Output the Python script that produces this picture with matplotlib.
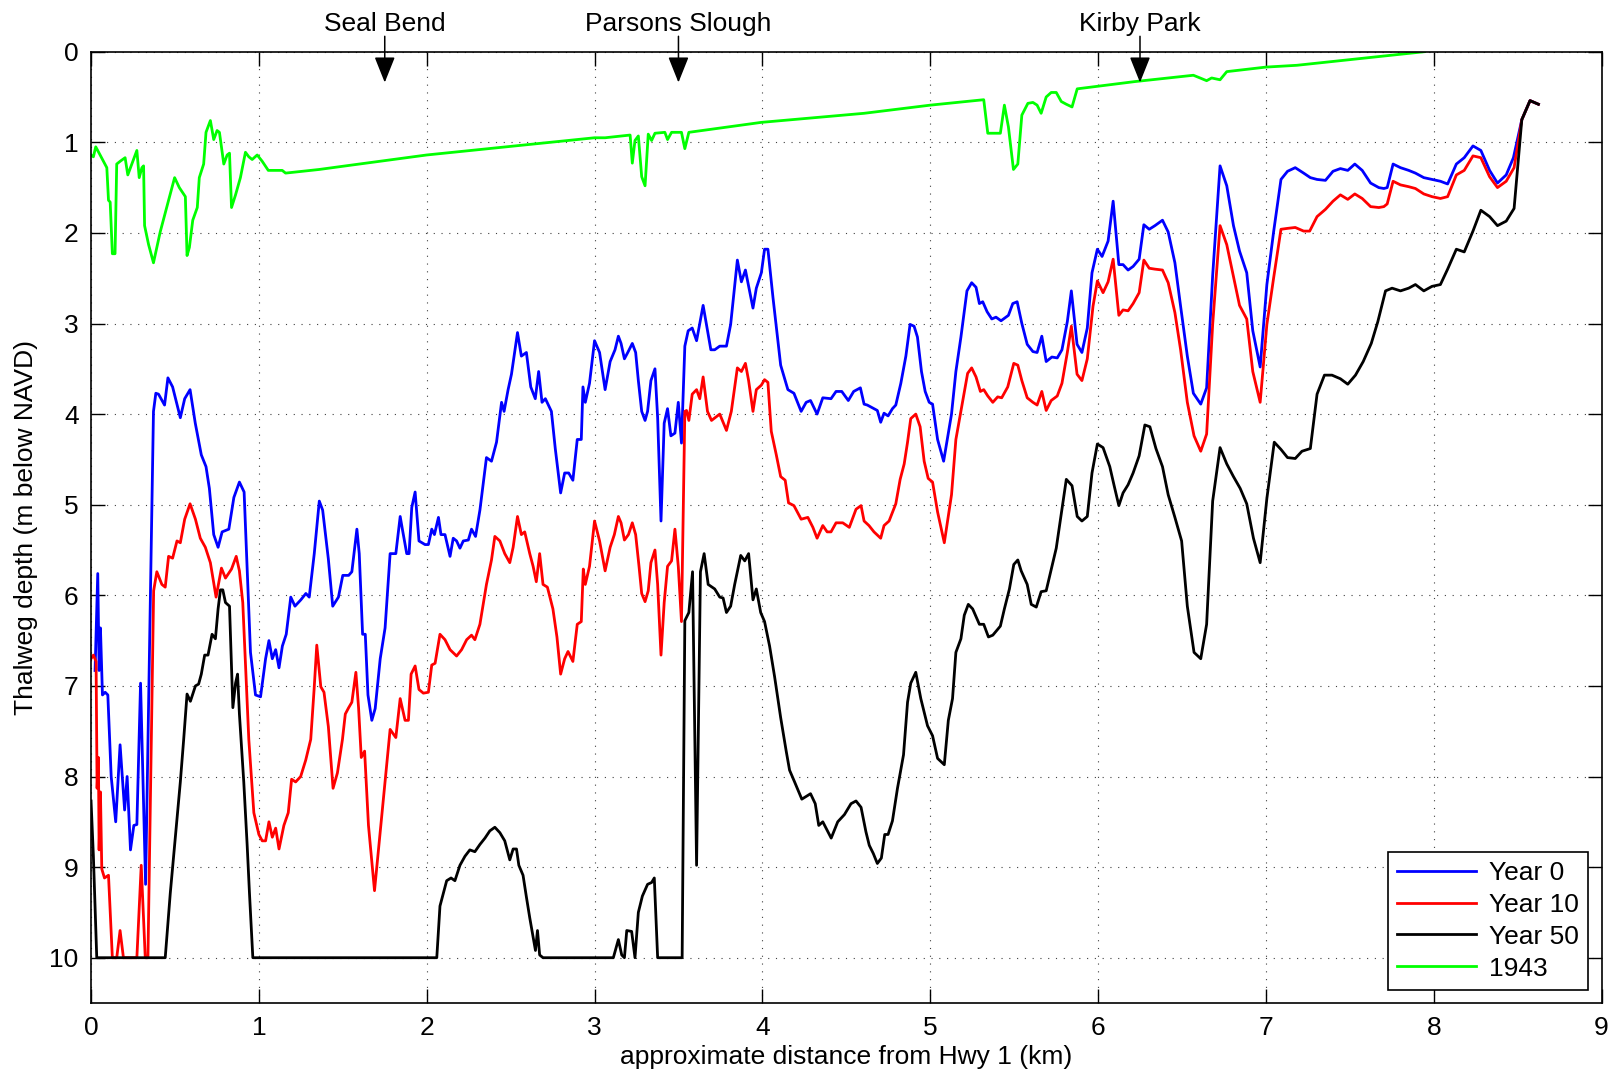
import matplotlib
matplotlib.use("Agg")
import matplotlib.pyplot as plt

plt.rcParams['font.family'] = ['Liberation Sans', 'DejaVu Sans']

# distance along channel (km) and thalweg depth (m below NAVD)
dist_y0 = [0.024, 0.04, 0.048, 0.056, 0.068, 0.084, 0.10, 0.12, 0.147, 0.173,
           0.20, 0.215, 0.235, 0.255, 0.273, 0.295, 0.325, 0.372, 0.386, 0.402,
           0.438, 0.458, 0.486, 0.532, 0.558, 0.59, 0.621, 0.657, 0.685, 0.705,
           0.731, 0.757, 0.781, 0.821, 0.851, 0.884, 0.912, 0.95, 0.98, 1.01,
           1.04, 1.06, 1.08, 1.10, 1.12, 1.14, 1.163, 1.19, 1.215, 1.25,
           1.28, 1.30, 1.33, 1.36, 1.38, 1.414, 1.44, 1.474, 1.50,
           1.535, 1.554, 1.584, 1.598, 1.618, 1.634, 1.65, 1.673, 1.693, 1.723,
           1.752, 1.782, 1.816, 1.842, 1.855, 1.881, 1.895, 1.911, 1.931, 1.954,
           1.99, 2.01, 2.03, 2.046, 2.07, 2.085, 2.109, 2.139, 2.158, 2.178,
           2.198, 2.218, 2.248, 2.267, 2.291, 2.317, 2.356, 2.386, 2.416, 2.446,
           2.461, 2.485, 2.505, 2.541, 2.564, 2.594, 2.62, 2.647, 2.667, 2.687,
           2.707, 2.743, 2.766, 2.798, 2.822, 2.846, 2.871, 2.897, 2.921, 2.931,
           2.945, 2.97, 3.0, 3.03,
           3.063, 3.093, 3.122, 3.142, 3.158, 3.178, 3.198, 3.225, 3.245, 3.261,
           3.281, 3.301, 3.316, 3.336, 3.36, 3.376, 3.396, 3.415, 3.435, 3.455,
           3.479, 3.499, 3.518, 3.538, 3.558, 3.582, 3.608, 3.647, 3.693, 3.716,
           3.746, 3.786, 3.811, 3.851, 3.875, 3.899, 3.944, 3.964, 3.994, 4.013,
           4.033, 4.063, 4.109, 4.152, 4.188, 4.231, 4.261, 4.287, 4.326, 4.36,
           4.409, 4.439, 4.473, 4.512, 4.544, 4.584,
           4.606, 4.625, 4.655, 4.685, 4.705, 4.725, 4.749, 4.775, 4.795, 4.825,
           4.855, 4.88, 4.904, 4.924, 4.948, 4.97, 4.994, 5.014, 5.044, 5.08,
           5.127, 5.153, 5.183, 5.219, 5.247, 5.273, 5.293, 5.313, 5.339, 5.367,
           5.392, 5.422, 5.466, 5.492, 5.518, 5.546, 5.578, 5.612, 5.637, 5.665,
           5.691, 5.725, 5.757, 5.785, 5.817, 5.841, 5.875, 5.904, 5.936, 5.964,
           5.996, 6.024, 6.06, 6.09, 6.124,
           6.149, 6.179, 6.209, 6.245, 6.273, 6.305, 6.339, 6.384, 6.418, 6.458,
           6.492, 6.532, 6.568, 6.612, 6.647, 6.683, 6.727, 6.767, 6.807, 6.843,
           6.886, 6.922, 6.966, 7.006, 7.046, 7.09, 7.129, 7.175, 7.225, 7.265,
           7.305, 7.355, 7.40, 7.444, 7.488, 7.53, 7.574, 7.624, 7.673,
           7.703, 7.723, 7.758, 7.802, 7.851, 7.891, 7.941, 7.99, 8.04, 8.083,
           8.135, 8.182, 8.234, 8.281, 8.333, 8.38, 8.432, 8.475, 8.525, 8.574,
           8.624]
depth_y0 = [6.83, 5.76, 6.83, 6.36, 7.1, 7.07, 7.1, 8.0, 8.5, 7.65,
            8.37, 8.0, 8.81, 8.54, 8.53, 6.97, 9.19, 3.97, 3.77, 3.78,
            3.9, 3.6, 3.7, 4.04, 3.83, 3.73, 4.1, 4.45, 4.58, 4.82,
            5.33, 5.47, 5.3, 5.27, 4.92, 4.75, 4.86, 6.63, 7.1, 7.12,
            6.7, 6.5, 6.7, 6.6, 6.8, 6.56, 6.43, 6.02, 6.12, 6.05,
            5.98, 6.02, 5.54, 4.96, 5.06, 5.6, 6.12, 6.02, 5.78,
            5.78, 5.74, 5.27, 5.54, 6.43, 6.43, 7.1, 7.38, 7.25, 6.7,
            6.36, 5.54, 5.54, 5.13, 5.27, 5.54, 5.54, 5.03, 4.86, 5.4,
            5.44, 5.44, 5.27, 5.33, 5.14, 5.33, 5.33, 5.57, 5.37, 5.4,
            5.48, 5.4, 5.39, 5.27, 5.35, 5.06, 4.48, 4.52, 4.31, 3.87,
            3.97, 3.73, 3.56, 3.1, 3.36, 3.32, 3.7, 3.83, 3.53, 3.87,
            3.83, 3.97, 4.38, 4.87, 4.65, 4.65, 4.73, 4.28, 4.28, 3.7,
            3.87, 3.66, 3.19, 3.32,
            3.73, 3.42, 3.29, 3.14, 3.22, 3.39, 3.32, 3.22, 3.32, 3.63,
            3.97, 4.07, 3.97, 3.63, 3.5, 4.04, 5.18, 4.1, 3.94, 4.24,
            4.21, 3.87, 4.32, 3.25, 3.08, 3.05, 3.19, 2.8, 3.29, 3.29,
            3.25, 3.25, 3.01, 2.3, 2.54, 2.41, 2.83, 2.61, 2.44, 2.18,
            2.18, 2.71, 3.46, 3.73, 3.77, 3.97, 3.87, 3.85, 4.0, 3.82,
            3.83, 3.75, 3.75, 3.85, 3.75, 3.71,
            3.89, 3.9, 3.93, 3.96, 4.09, 3.99, 4.02, 3.94, 3.9, 3.66,
            3.36, 3.01, 3.03, 3.15, 3.53, 3.75, 3.87, 3.89, 4.28, 4.52,
            4.0, 3.53, 3.15, 2.64, 2.55, 2.6, 2.78, 2.76, 2.87, 2.95,
            2.93, 2.97, 2.91, 2.78, 2.76, 3.0, 3.23, 3.31, 3.32, 3.14,
            3.42, 3.37, 3.38, 3.29, 2.98, 2.64, 3.23, 3.32, 3.05, 2.44,
            2.18, 2.26, 2.09, 1.65, 2.35,
            2.35, 2.41, 2.37, 2.29, 1.91, 1.96, 1.92, 1.86, 1.99, 2.33,
            2.81, 3.36, 3.77, 3.89, 3.71, 2.47, 1.26, 1.48, 1.92, 2.2,
            2.44, 3.08, 3.48, 2.57, 1.99, 1.41, 1.32, 1.28, 1.34, 1.39,
            1.41, 1.42, 1.32, 1.29, 1.31, 1.24, 1.31, 1.45, 1.5,
            1.51, 1.5, 1.24, 1.28, 1.31, 1.34, 1.39, 1.41, 1.43, 1.46,
            1.24, 1.17, 1.04, 1.09, 1.31, 1.45, 1.36, 1.17, 0.75, 0.54,
            0.58]

dist_y10 = [0.0, 0.014, 0.03, 0.036, 0.044, 0.048, 0.056, 0.064, 0.08, 0.104,
            0.127, 0.153, 0.173, 0.193, 0.273, 0.299, 0.323, 0.339, 0.373, 0.392,
            0.422, 0.442, 0.462, 0.486, 0.512, 0.532, 0.558, 0.59, 0.622, 0.651,
            0.681, 0.711, 0.745, 0.777, 0.801, 0.837, 0.865, 0.884, 0.904, 0.94,
            0.97, 1.0, 1.02, 1.04, 1.06, 1.08, 1.1, 1.12, 1.149, 1.175,
            1.195, 1.219, 1.249, 1.279, 1.309, 1.329, 1.345, 1.369, 1.388, 1.414,
            1.442, 1.468, 1.498,
            1.515, 1.535, 1.554, 1.578, 1.594, 1.61, 1.63, 1.653, 1.689, 1.723,
            1.762, 1.782, 1.816, 1.842, 1.871, 1.891, 1.907, 1.931, 1.954, 1.98,
            2.01, 2.03, 2.05, 2.079, 2.109, 2.139, 2.178, 2.208, 2.238, 2.267,
            2.287, 2.317, 2.356, 2.386, 2.406, 2.436, 2.465, 2.495, 2.515, 2.541,
            2.564, 2.584, 2.614, 2.634, 2.653, 2.673, 2.693, 2.719, 2.752, 2.776,
            2.798, 2.822, 2.842, 2.871, 2.897, 2.921, 2.933, 2.945, 2.97, 3.0,
            3.03,
            3.063, 3.093, 3.118, 3.142, 3.158, 3.178, 3.202, 3.225, 3.245, 3.265,
            3.281, 3.301, 3.32, 3.336, 3.36, 3.376, 3.396, 3.415, 3.435, 3.459,
            3.479, 3.499, 3.518, 3.538, 3.548, 3.562, 3.582, 3.608, 3.627, 3.647,
            3.673, 3.697, 3.746, 3.786, 3.815, 3.851, 3.875, 3.899, 3.918, 3.944,
            3.964, 3.994, 4.013, 4.033, 4.053, 4.083, 4.109, 4.136, 4.156, 4.188,
            4.231, 4.271, 4.301, 4.326, 4.36, 4.386, 4.409, 4.439, 4.479, 4.518,
            4.558, 4.588,
            4.606, 4.635, 4.665, 4.705, 4.725, 4.755, 4.795, 4.821, 4.845, 4.865,
            4.884, 4.914, 4.94, 4.964, 4.988, 5.014, 5.044, 5.084, 5.127, 5.153,
            5.183, 5.223, 5.247, 5.273, 5.299, 5.319, 5.343, 5.373, 5.402, 5.426,
            5.462, 5.498, 5.522, 5.546, 5.578, 5.612, 5.637, 5.665, 5.691, 5.721,
            5.757, 5.785, 5.817, 5.841, 5.875, 5.904, 5.936, 5.97, 5.996, 6.03,
            6.06, 6.09, 6.124,
            6.149, 6.179, 6.209, 6.245, 6.273, 6.305, 6.339, 6.384, 6.418, 6.458,
            6.492, 6.532, 6.572, 6.612, 6.647, 6.683, 6.727, 6.767, 6.807, 6.843,
            6.886, 6.922, 6.966, 7.006, 7.046, 7.09, 7.129, 7.175, 7.225, 7.261,
            7.305, 7.355, 7.4, 7.444, 7.488, 7.53, 7.574, 7.624, 7.673,
            7.703, 7.723, 7.758, 7.802, 7.851, 7.891, 7.941, 7.99, 8.04, 8.083,
            8.135, 8.182, 8.234, 8.281, 8.333, 8.38, 8.432, 8.479, 8.525, 8.574,
            8.624]
depth_y10 = [6.7, 6.66, 6.73, 8.13, 7.79, 8.81, 8.17, 9.02, 9.12, 9.09,
             10, 10, 9.7, 10, 10, 8.98, 10, 10, 5.95, 5.74,
             5.88, 5.91, 5.57, 5.59, 5.4, 5.42, 5.16, 4.99, 5.16, 5.37,
             5.47, 5.64, 6.02, 5.7, 5.81, 5.71, 5.57, 5.73, 6.08, 7.59,
             8.4, 8.64, 8.71, 8.71, 8.5, 8.67, 8.57, 8.8, 8.54, 8.4,
             8.03, 8.06, 8.0, 7.82, 7.59, 7.04, 6.55, 7.01, 7.07, 7.45,
             8.13, 7.96, 7.59,
             7.31, 7.24, 7.18, 6.85, 7.24, 7.79, 7.72, 8.54, 9.26, 8.61,
             7.86, 7.48, 7.57, 7.14, 7.38, 7.38, 6.87, 6.78, 7.04, 7.08,
             7.07, 6.77, 6.75, 6.43, 6.49, 6.6, 6.67, 6.6, 6.49, 6.44,
             6.49, 6.32, 5.88, 5.61, 5.35, 5.4, 5.54, 5.64, 5.47, 5.13,
             5.33, 5.3, 5.54, 5.68, 5.85, 5.54, 5.88, 5.91, 6.15, 6.46,
             6.87, 6.7, 6.62, 6.73, 6.32, 6.29, 5.71, 5.88, 5.68, 5.18,
             5.4,
             5.73, 5.47, 5.33, 5.13, 5.2, 5.39, 5.33, 5.2, 5.33, 5.68,
             5.98, 6.07, 5.95, 5.64, 5.5, 5.88, 6.66, 6.08, 5.68, 5.62,
             5.27, 5.68, 6.29, 3.97, 3.96, 4.07, 3.78, 3.73, 3.83, 3.59,
             3.97, 4.07, 4.0, 4.18, 3.97, 3.49, 3.53, 3.44, 3.63, 3.97,
             3.73, 3.68, 3.62, 3.65, 4.19, 4.45, 4.69, 4.73, 4.98, 5.01,
             5.16, 5.14, 5.25, 5.37, 5.23, 5.3, 5.3, 5.2, 5.2, 5.25,
             5.05, 5.01,
             5.18, 5.23, 5.3, 5.37, 5.23, 5.18, 4.99, 4.72, 4.55, 4.31,
             4.05, 4.0, 4.14, 4.52, 4.71, 4.75, 5.08, 5.42, 4.89, 4.28,
             3.97, 3.55, 3.49, 3.59, 3.75, 3.73, 3.8, 3.87, 3.81, 3.82,
             3.7, 3.44, 3.46, 3.63, 3.82, 3.87, 3.9, 3.75, 3.96, 3.85,
             3.8, 3.66, 3.32, 3.03, 3.56, 3.63, 3.39, 2.81, 2.53, 2.66,
             2.54, 2.29, 2.91,
             2.85, 2.86, 2.78, 2.66, 2.3, 2.39, 2.4, 2.41, 2.55, 2.88,
             3.29, 3.87, 4.24, 4.41, 4.22, 3.01, 1.92, 2.13, 2.48, 2.8,
             2.95, 3.53, 3.87, 3.01, 2.5, 1.96, 1.95, 1.94, 1.98, 1.98,
             1.82, 1.74, 1.65, 1.58, 1.63, 1.57, 1.62, 1.71, 1.72,
             1.71, 1.68, 1.43, 1.47, 1.49, 1.51, 1.57, 1.6, 1.62, 1.6,
             1.36, 1.31, 1.15, 1.17, 1.38, 1.5, 1.43, 1.28, 0.75, 0.54,
             0.58]

dist_y50 = [0.0, 0.014, 0.034, 0.442, 0.472, 0.502, 0.532, 0.552, 0.572, 0.592,
            0.622, 0.641, 0.657, 0.677, 0.697, 0.721, 0.741, 0.757, 0.771, 0.785,
            0.801, 0.825, 0.845, 0.861, 0.873, 0.884, 0.91, 0.93, 0.944, 0.964,
            2.06, 2.079, 2.099, 2.119, 2.145, 2.168, 2.198, 2.228, 2.257, 2.287,
            2.317, 2.347, 2.376, 2.406, 2.436, 2.465, 2.495, 2.515, 2.535, 2.549,
            2.574, 2.594, 2.614, 2.634, 2.648, 2.66, 2.673, 2.693,
            3.112, 3.142, 3.162, 3.178, 3.192, 3.221, 3.241, 3.261, 3.285, 3.316,
            3.34, 3.356, 3.376, 3.522, 3.538, 3.562, 3.584, 3.608, 3.631, 3.653,
            3.677, 3.716, 3.746, 3.766, 3.786, 3.811, 3.835, 3.871, 3.895, 3.918,
            3.944, 3.964, 3.99, 4.013, 4.043, 4.073, 4.109, 4.142, 4.162, 4.192,
            4.235, 4.287, 4.315, 4.336, 4.36, 4.41, 4.449, 4.489, 4.528, 4.558,
            4.588,
            4.617, 4.637, 4.661, 4.685, 4.709, 4.729, 4.749, 4.775, 4.805, 4.841,
            4.865, 4.884, 4.914, 4.944, 4.984, 5.014, 5.044, 5.084, 5.108, 5.133,
            5.153, 5.183, 5.203, 5.227, 5.253, 5.293, 5.319, 5.347, 5.373, 5.418,
            5.442, 5.472, 5.498, 5.522, 5.542, 5.578, 5.602, 5.632, 5.661, 5.691,
            5.751, 5.811, 5.845, 5.876, 5.904, 5.936, 5.964, 5.996, 6.03, 6.07,
            6.096, 6.124,
            6.149, 6.179, 6.209, 6.245, 6.279, 6.309, 6.345, 6.384, 6.418, 6.458,
            6.498, 6.532, 6.572, 6.612, 6.647, 6.683, 6.727, 6.767, 6.807, 6.847,
            6.886, 6.926, 6.966, 7.006, 7.05, 7.09, 7.129, 7.175, 7.215, 7.265,
            7.305, 7.349, 7.394, 7.444, 7.488, 7.534, 7.58, 7.628, 7.667,
            7.713, 7.752, 7.802, 7.851, 7.891, 7.941, 7.99, 8.04, 8.083, 8.135,
            8.182, 8.234, 8.281, 8.333, 8.38, 8.432, 8.479, 8.525, 8.574, 8.624]
depth_y50 = [8.27, 8.88, 10, 10, 9.29, 8.68, 8.06, 7.59, 7.09, 7.17,
             7.0, 6.98, 6.87, 6.66, 6.66, 6.43, 6.48, 6.15, 5.94, 5.94,
             6.08, 6.12, 7.24, 6.97, 6.87, 7.31, 8.06, 8.75, 9.29, 10,
             10, 9.43, 9.29, 9.15, 9.12, 9.15, 8.98, 8.88, 8.81, 8.83,
             8.75, 8.68, 8.6, 8.56, 8.62, 8.71, 8.92, 8.8, 8.8, 8.98,
             9.09, 9.33, 9.56, 9.77, 9.92, 9.7, 9.97, 10,
             10, 9.8, 9.97, 10, 9.7, 9.71, 10, 9.5, 9.32, 9.19,
             9.17, 9.12, 10, 10, 6.28, 6.19, 5.74, 8.98, 5.74, 5.54,
             5.88, 5.93, 6.02, 6.03, 6.19, 6.12, 5.88, 5.56, 5.62, 5.54,
             6.05, 5.93, 6.19, 6.29, 6.56, 6.9, 7.35, 7.72, 7.93, 8.06,
             8.25, 8.19, 8.3, 8.54, 8.5, 8.68, 8.5, 8.42, 8.3, 8.27,
             8.34,
             8.61, 8.76, 8.85, 8.96, 8.9, 8.64, 8.64, 8.49, 8.13, 7.76,
             7.18, 6.97, 6.85, 7.14, 7.44, 7.55, 7.8, 7.87, 7.38, 7.14,
             6.63, 6.48, 6.22, 6.1, 6.15, 6.32, 6.32, 6.46, 6.44, 6.34,
             6.15, 5.93, 5.66, 5.61, 5.73, 5.88, 6.1, 6.13, 5.96, 5.95,
             5.48, 4.72, 4.79, 5.13, 5.18, 5.13, 4.65, 4.33, 4.37, 4.58,
             4.79, 5.01,
             4.87, 4.78, 4.65, 4.46, 4.12, 4.14, 4.38, 4.58, 4.89, 5.14,
             5.4, 6.12, 6.63, 6.7, 6.32, 4.96, 4.37, 4.55, 4.69, 4.82,
             4.99, 5.37, 5.64, 4.93, 4.31, 4.39, 4.48, 4.49, 4.41, 4.38,
             3.78, 3.57, 3.57, 3.61, 3.67, 3.57, 3.42, 3.22, 2.98,
             2.64, 2.61, 2.64, 2.61, 2.57, 2.64, 2.59, 2.57, 2.4, 2.18,
             2.21, 1.98, 1.75, 1.82, 1.92, 1.87, 1.73, 0.75, 0.54, 0.58]

dist_1943 = [0.0, 0.014, 0.028, 0.054, 0.094, 0.104, 0.114, 0.127, 0.143, 0.153,
             0.173, 0.203, 0.219, 0.243, 0.273, 0.287, 0.303, 0.313, 0.319, 0.343,
             0.372, 0.412, 0.462, 0.498, 0.526, 0.562, 0.572, 0.586, 0.606, 0.633,
             0.645, 0.671, 0.685, 0.711, 0.731, 0.751, 0.765, 0.791, 0.811, 0.825,
             0.837, 0.861, 0.89, 0.92, 0.94, 0.96, 0.99, 1.02, 1.056, 1.139,
             1.159, 1.359, 1.518, 2.0, 3.0, 3.063, 3.212, 3.225, 3.241, 3.261,
             3.281, 3.301, 3.32, 3.34, 3.36, 3.419, 3.435, 3.459, 3.518, 3.538,
             3.562, 3.994, 4.606, 5.0, 5.319, 5.343, 5.418, 5.442, 5.466, 5.496,
             5.522, 5.546, 5.582, 5.612, 5.637, 5.661, 5.691, 5.721, 5.751, 5.781,
             5.811, 5.845, 5.876, 6.219, 6.568, 6.608, 6.647, 6.677, 6.727, 6.767,
             7.0, 7.185, 7.945]
depth_1943 = [1.14, 1.16, 1.05, 1.14, 1.28, 1.64, 1.66, 2.23, 2.23, 1.24,
              1.21, 1.17, 1.36, 1.24, 1.09, 1.39, 1.28, 1.26, 1.92, 2.13,
              2.33, 1.99, 1.64, 1.39, 1.5, 1.6, 2.25, 2.16, 1.86, 1.72,
              1.39, 1.24, 0.89, 0.76, 0.97, 0.87, 0.89, 1.24, 1.14, 1.12,
              1.72, 1.58, 1.39, 1.11, 1.16, 1.19, 1.14, 1.21, 1.31, 1.31,
              1.34, 1.3, 1.26, 1.14, 0.95, 0.95, 0.92, 1.23, 0.98, 0.93,
              1.38, 1.48, 0.91, 0.98, 0.9, 0.89, 0.97, 0.89, 0.89, 1.07,
              0.89, 0.78, 0.68, 0.59, 0.53, 0.9, 0.9, 0.59, 0.83, 1.3,
              1.24, 0.7, 0.57, 0.56, 0.59, 0.68, 0.5, 0.45, 0.45, 0.55,
              0.58, 0.61, 0.41, 0.33, 0.26, 0.29, 0.32, 0.29, 0.31, 0.22,
              0.17, 0.15, 0.0]

# landmarks along the slough
place_names = ['Seal Bend', 'Parsons Slough', 'Kirby Park']
place_dist = [1.75, 3.5, 6.25]

fs = 19
fig = plt.figure(figsize=(16.2, 10.77), dpi=100)
ax = fig.add_axes([0.0562, 0.0687, 0.9324, 0.8833])

ax.plot(dist_y0, depth_y0, color='#0000ff', lw=2.0, label='Year 0')
ax.plot(dist_y10, depth_y10, color='#ff0000', lw=2.0, label='Year 10')
ax.plot(dist_y50, depth_y50, color='black', lw=2.0, label='Year 50')
ax.plot(dist_1943, depth_1943, color='#00ff00', lw=2.0, label='1943')

ax.set_xlim(0, 9)
ax.set_ylim(10.5, 0)
ax.set_xticks(range(0, 10))
ax.set_yticks(range(0, 11))
ax.tick_params(direction='in', length=10, width=1, top=True, right=True,
               labelsize=fs, pad=9)
for s in ax.spines.values():
    s.set_linewidth(1.2)
ax.grid(True, color='0.25', linestyle=(0, (1, 6)), linewidth=0.8)

ax.set_xlabel('approximate distance from Hwy 1 (km)', fontsize=fs, labelpad=4)
ax.set_ylabel('Thalweg depth (m below NAVD)', fontsize=fs, labelpad=8)

for name, d in zip(place_names, place_dist):
    ax.annotate('', xy=(d, 0.34), xytext=(d, -0.17), annotation_clip=False,
                arrowprops=dict(arrowstyle='-|>,head_length=0.8,head_width=0.32',
                                mutation_scale=20, color='black', lw=1.1,
                                shrinkA=0, shrinkB=0))
    ax.text(d, -0.23, name, ha='center', va='baseline', fontsize=fs)

leg = ax.legend(loc='lower right', fontsize=fs, fancybox=False, framealpha=1,
                edgecolor='black', handlelength=3.0, labelspacing=0.3,
                borderaxespad=0.5, borderpad=0.35, handletextpad=0.5)
leg.get_frame().set_linewidth(1.2)

fig.savefig('out.png', dpi=100)
